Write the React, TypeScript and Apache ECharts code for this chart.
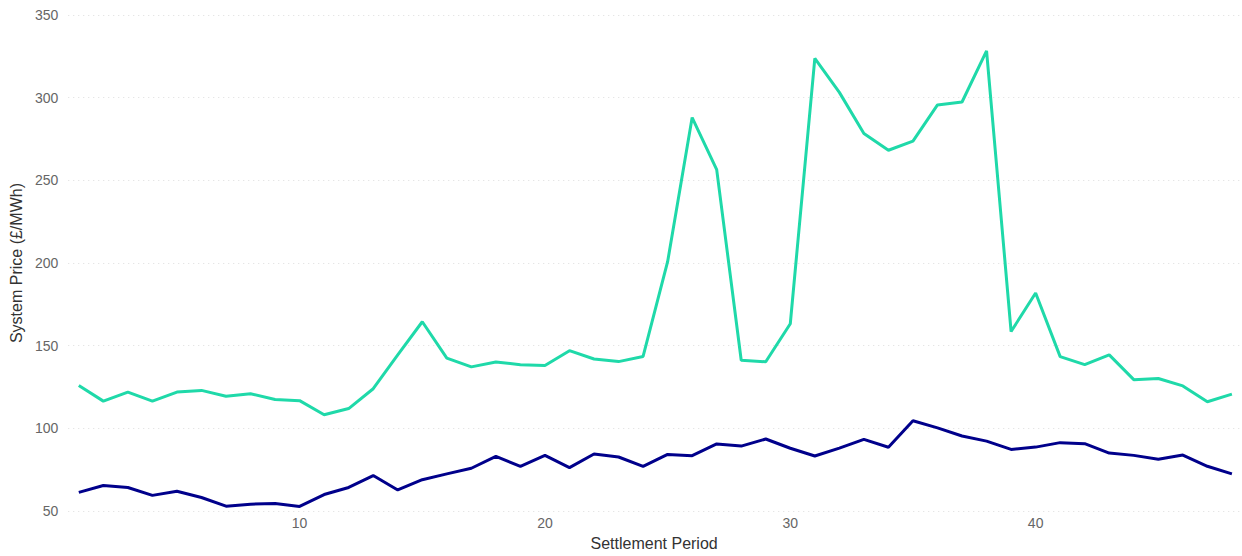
import React, { useEffect, useRef } from "react";
import * as echarts from "echarts";

const periods: number[] = Array.from({ length: 48 }, (_, i) => i + 1);

const highPrice: number[] = [
  126, 116.5, 122, 116.5, 122, 123, 119.5, 121, 117.5, 116.8,
  108.3, 112, 124, 144.5, 164.5, 142.5, 137.2, 140.2, 138.5, 138,
  147, 142, 140.4, 143.5, 200.8, 288, 256.5, 141.2, 140.3, 163.3,
  323.8, 303.2, 278.3, 268.2, 273.7, 295.6, 297.4, 328.3, 158.6, 181.9,
  143.4, 138.6, 144.5, 129.5, 130.2, 125.7, 116.1, 120.7,
];

const lowPrice: number[] = [
  61.3, 65.5, 64.3, 59.5, 62, 58.2, 53, 54.2, 54.6, 52.8,
  60, 64.3, 71.5, 62.8, 69, 72.5, 75.9, 83.1, 77.1, 83.7,
  76.3, 84.5, 82.7, 77.1, 84.3, 83.5, 90.6, 89.3, 93.6, 88,
  83.3, 88.1, 93.4, 88.6, 104.6, 100.3, 95.4, 92.3, 87.3, 88.7,
  91.4, 90.8, 85.1, 83.7, 81.3, 83.9, 77.1, 72.5,
];

const xTickValues: number[] = [10, 20, 30, 40];

export default function App() {
  const ref = useRef<HTMLDivElement>(null);

  useEffect(() => {
    if (!ref.current) return;
    const chart = echarts.init(ref.current, undefined, { renderer: "svg" });
    const font = "'Liberation Sans', Arial, sans-serif";
    chart.setOption({
      animation: false,
      textStyle: { fontFamily: font },
      grid: { left: 65, right: 2, top: 15, bottom: 40.5, containLabel: false },
      xAxis: {
        type: "value",
        min: 0.57,
        max: 48.33,
        name: "Settlement Period",
        nameLocation: "middle",
        nameGap: 21,
        nameTextStyle: { color: "#333", fontSize: 16, fontFamily: font },
        axisLine: { show: false },
        axisTick: { show: false },
        splitLine: { show: false },
        axisLabel: {
          customValues: xTickValues,
          color: "#666",
          fontSize: 14,
          margin: 5,
          fontFamily: font,
        },
      },
      yAxis: {
        type: "value",
        min: 50,
        max: 350,
        interval: 50,
        name: "System Price (£/MWh)",
        nameLocation: "middle",
        nameRotate: 90,
        nameGap: 42,
        nameTextStyle: { color: "#333", fontSize: 16, fontFamily: font },
        axisLine: { show: false },
        axisTick: { show: false },
        axisLabel: { color: "#666", fontSize: 14, margin: 10, fontFamily: font },
        splitLine: { lineStyle: { color: "#dcdcdc", type: [1, 4], width: 1 } },
      },
      series: [
        {
          name: "High",
          type: "line",
          data: periods.map((p, i) => [p, highPrice[i]]),
          showSymbol: false,
          lineStyle: { color: "#1fd9a9", width: 3 },
          itemStyle: { color: "#1fd9a9" },
        },
        {
          name: "Low",
          type: "line",
          data: periods.map((p, i) => [p, lowPrice[i]]),
          showSymbol: false,
          lineStyle: { color: "#00008b", width: 3 },
          itemStyle: { color: "#00008b" },
        },
      ],
    });
    return () => chart.dispose();
  }, []);

  return (
    <div
      ref={ref}
      style={{ position: "fixed", left: 0, top: 0, width: 1242, height: 556, background: "#fff" }}
    />
  );
}
